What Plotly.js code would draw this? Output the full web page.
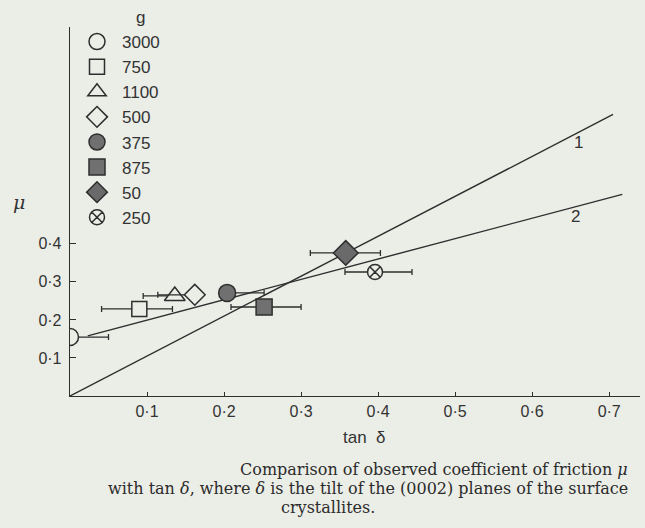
<!DOCTYPE html>
<html><head><meta charset="utf-8">
<script src="https://cdn.plot.ly/plotly-3.0.1.min.js"></script>
<style>html,body{margin:0;padding:0;background:#ebede7;}</style>
</head><body>
<div id="chart" style="width:645px;height:528px;"></div>
<script>
// Data
const loads = ["3000", "750", "1100", "500", "375", "875", "50", "250"];
const tanDelta = [0.0, 0.090, 0.136, 0.162, 0.204, 0.252, 0.358, 0.396];
const mu = [0.155, 0.229, 0.263, 0.266, 0.271, 0.234, 0.376, 0.326];
const errPlus = [0.05, 0.043, 0.0, 0.0, 0.048, 0.048, 0.045, 0.048];
const errMinus = [0.0, 0.049, 0.041, 0.048, 0.0, 0.043, 0.046, 0.039];
const symbols = ["circle", "square", "triangle-up", "diamond", "circle", "square", "diamond", "circle-x"];
const fills = ["#ebede7", "#ebede7", "#ebede7", "#ebede7", "#707070", "#707070", "#6a6a6a", "#ebede7"];
const sizes = [17, 15, 18, 16, 17, 16, 19, 15];
const line1X = [0.0, 0.705];
const line1Y = [0.0, 0.74];
const line2X = [0.023, 0.717];
const line2Y = [0.158, 0.53];
const xTickVals = [0.1, 0.2, 0.3, 0.4, 0.5, 0.6, 0.7];
const xTickText = ["0·1", "0·2", "0·3", "0·4", "0·5", "0·6", "0·7"];
const yTickVals = [0.1, 0.2, 0.3, 0.4];
const yTickText = ["0·1", "0·2", "0·3", "0·4"];

const ink = "#2e2e2e";
const bg = "#ebede7";
const serif = "DejaVu Serif, Liberation Serif, serif";

const traces = [
  {x: line1X, y: line1Y, mode: "lines", line: {color: ink, width: 1.4}, showlegend: false, hoverinfo: "skip"},
  {x: line2X, y: line2Y, mode: "lines", line: {color: ink, width: 1.4}, showlegend: false, hoverinfo: "skip"}
];
for (let i = 0; i < loads.length; i++) {
  traces.push({
    x: [tanDelta[i]], y: [mu[i]], mode: "markers", name: loads[i],
    marker: {symbol: symbols[i], size: sizes[i], color: fills[i], line: {color: ink, width: 1.5}},
    error_x: {type: "data", symmetric: false, array: [errPlus[i]], arrayminus: [errMinus[i]],
              color: ink, thickness: 1.3, width: 3}
  });
}

// helpers: pixel position -> paper fraction (plot area: x 70..640, y 27..396)
const px = v => (v - 70) / 570;
const py = v => (396 - v) / 369;

const layout = {
  width: 645, height: 528,
  paper_bgcolor: bg, plot_bgcolor: bg,
  margin: {l: 70, r: 5, t: 27, b: 132},
  font: {family: "Liberation Sans, DejaVu Sans, sans-serif", color: ink},
  xaxis: {range: [0, 0.74], showgrid: false, zeroline: false, showline: true, linecolor: ink, linewidth: 1.3,
          ticks: "inside", ticklen: 4, tickcolor: ink, tickvals: xTickVals, ticktext: xTickText,
          tickfont: {size: 16, color: "#333"}},
  yaxis: {range: [0, 0.97], showgrid: false, zeroline: false, showline: true, linecolor: ink, linewidth: 1.3,
          ticks: "inside", ticklen: 6, tickcolor: ink, tickvals: yTickVals, ticktext: yTickText,
          tickfont: {size: 16, color: "#333"}, ticklabelstandoff: 4},
  showlegend: true,
  legend: {x: px(72), y: py(24), xanchor: "left", yanchor: "top", bgcolor: "rgba(0,0,0,0)",
           font: {size: 17, color: "#333"}, itemwidth: 40},
  annotations: [
    {text: "g", xref: "paper", yref: "paper", x: px(140), y: py(17), xanchor: "center", yanchor: "middle",
     showarrow: false, font: {size: 17, color: "#333"}},
    {text: "<i>μ</i>", xref: "paper", yref: "paper", x: px(19), y: py(202), xanchor: "center", yanchor: "middle",
     showarrow: false, font: {size: 19, family: serif, color: "#333"}},
    {text: "tan\u00a0\u00a0δ", xref: "paper", yref: "paper", x: px(364), y: py(437), xanchor: "center", yanchor: "middle",
     showarrow: false, font: {size: 17, color: "#333"}},
    {text: "1", xref: "x", yref: "y", x: 0.66, y: 0.666, xanchor: "center", yanchor: "middle",
     showarrow: false, font: {size: 17, color: "#333"}},
    {text: "2", xref: "x", yref: "y", x: 0.656, y: 0.471, xanchor: "center", yanchor: "middle",
     showarrow: false, font: {size: 17, color: "#333"}},
    {text: "Comparison of observed coefficient of friction <i>μ</i>", xref: "paper", yref: "paper",
     x: px(630), y: py(469), xanchor: "right", yanchor: "middle", showarrow: false,
     font: {size: 16, family: serif, color: "#2b2b2b"}},
    {text: "with tan <i>δ</i>, where <i>δ</i> is the tilt of the (0002) planes of the surface", xref: "paper", yref: "paper",
     x: px(630), y: py(488), xanchor: "right", yanchor: "middle", showarrow: false,
     font: {size: 16, family: serif, color: "#2b2b2b"}},
    {text: "crystallites.", xref: "paper", yref: "paper",
     x: px(328), y: py(507), xanchor: "center", yanchor: "middle", showarrow: false,
     font: {size: 16, family: serif, color: "#2b2b2b"}}
  ]
};
Plotly.newPlot("chart", traces, layout, {displayModeBar: false, staticPlot: true});
</script>
</body></html>
